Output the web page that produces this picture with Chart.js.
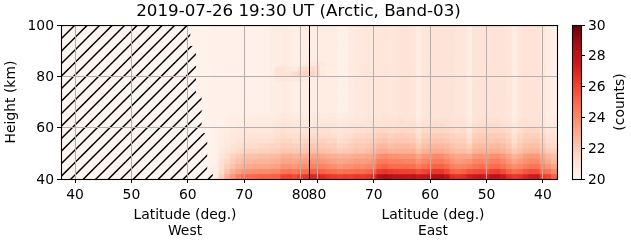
<!DOCTYPE html>
<html>
<head>
<meta charset="utf-8">
<title>Band-03 counts</title>
<script src="https://cdn.jsdelivr.net/npm/chart.js@4"></script>
<style>
  html, body { margin: 0; padding: 0; background: #fff; }
  canvas { position: absolute; top: 0; }
  #heatChart { left: 0; }
  #barChart { left: 560px; }
</style>
</head>
<body>
<canvas id="heatChart" width="631" height="243"></canvas>
<canvas id="barChart" width="71" height="243"></canvas>
<script>
const titleText = '2019-07-26 19:30 UT (Arctic, Band-03)';

// x runs west 37.5..81.5 then folds over the pole, east lat = 163 - x
const columns = [38,39,40,41,42,43,44,45,46,47,48,49,50,51,52,53,54,55,56,57,58,59,60,61,62,63,64,65,66,67,68,69,70,71,72,73,74,75,76,77,78,79,80,81,82,83,84,85,86,87,88,89,90,91,92,93,94,95,96,97,98,99,100,101,102,103,104,105,106,107,108,109,110,111,112,113,114,115,116,117,118,119,120,121,122,123,124,125];
const firstDataColumn = 61;
const heights = [40,42,44,46,48,50,52,54,56,58,60,62,64,66,68,70,72,74,76,78,80,82,84,86,88,90,92,94,96,98];
const poleLine = 81.59;
const xTickValues = [40,50,60,70,80,83,93,103,113,123];
const xTickLabels = ['40','50','60','70','80','80','70','60','50','40'];
const sideCentres = [59.5,103.5];
const sideLabels = [['Latitude (deg.)','West'],['Latitude (deg.)','East']];
const yTicks = [40,60,80,100];
const barTicks = [20,22,24,26,28,30];

// counts per height row, columns 61..125, null = no data (hatched)
const row40 = [null,null,null,null,20.5,21.8,22.8,23.6,24.3,24.8,25.0,25.1,25.2,25.2,25.3,25.3,26.0,26.1,25.8,26.2,26.5,27.0,27.0,26.8,26.5,26.3,26.1,26.3,26.2,26.5,26.3,26.5,26.8,28.2,28.5,28.2,28.0,27.9,27.8,27.9,27.5,27.7,28.0,28.4,28.4,27.8,26.8,26.6,26.8,27.3,27.5,27.6,27.3,27.9,28.1,27.5,26.8,26.4,26.6,27.0,27.4,27.5,26.3,26.0,25.3];
const row42 = [null,null,null,20.2,20.4,21.4,22.2,22.8,23.3,23.7,23.8,23.9,24.0,24.0,24.1,24.1,24.7,24.7,24.5,24.8,25.0,25.4,25.4,25.2,25.0,24.9,24.7,24.8,24.8,25.0,24.9,25.1,25.3,26.3,26.5,26.3,26.2,26.1,26.1,26.1,25.7,26.0,26.2,26.5,26.5,26.0,25.3,25.1,25.3,25.6,25.8,25.9,25.7,26.1,26.3,25.8,25.3,24.9,25.1,25.5,25.8,25.8,24.9,24.6,24.0];
const row44 = [null,null,null,20.2,20.4,21.2,21.8,22.2,22.6,22.9,23.0,23.1,23.1,23.1,23.2,23.3,23.7,23.7,23.5,23.8,23.9,24.3,24.3,24.2,24.0,23.9,23.6,23.8,23.8,24.0,23.9,24.1,24.2,25.0,25.2,25.0,24.9,24.9,24.9,24.8,24.4,24.8,25.0,25.2,25.2,24.9,24.3,24.1,24.2,24.4,24.7,24.8,24.6,24.9,25.0,24.7,24.2,23.9,24.1,24.4,24.6,24.7,24.0,23.6,23.2];
const row46 = [null,null,null,20.2,20.3,21.0,21.5,21.9,22.2,22.5,22.6,22.7,22.7,22.7,22.8,22.9,23.2,23.2,23.1,23.2,23.4,23.7,23.7,23.6,23.4,23.3,23.1,23.2,23.3,23.5,23.4,23.5,23.7,24.4,24.5,24.3,24.3,24.3,24.2,24.2,23.7,24.1,24.3,24.5,24.5,24.2,23.7,23.5,23.6,23.7,24.1,24.2,24.0,24.3,24.4,24.1,23.6,23.2,23.5,23.8,24.0,24.1,23.4,23.0,22.6];
const row48 = [null,null,null,20.2,20.3,20.9,21.3,21.7,22.0,22.2,22.3,22.3,22.4,22.4,22.5,22.5,22.9,22.9,22.7,22.8,23.0,23.2,23.2,23.1,23.0,22.9,22.7,22.8,22.9,23.0,23.0,23.1,23.2,23.8,24.0,23.8,23.8,23.7,23.7,23.7,23.2,23.6,23.8,24.0,24.0,23.7,23.3,23.1,23.2,23.1,23.6,23.7,23.5,23.8,23.9,23.6,23.2,22.7,23.0,23.4,23.6,23.6,23.0,22.6,22.3];
const row50 = [null,null,null,20.2,20.3,20.7,21.0,21.2,21.4,21.6,21.7,21.7,21.7,21.7,21.8,21.9,22.1,22.1,22.0,22.1,22.2,22.4,22.4,22.3,22.2,22.1,21.9,22.0,22.1,22.3,22.2,22.4,22.5,22.9,23.0,22.8,22.8,22.8,22.8,22.8,22.3,22.7,22.9,23.0,23.0,22.8,22.5,22.4,22.4,22.2,22.7,22.8,22.7,22.9,22.9,22.7,22.4,22.0,22.3,22.6,22.7,22.7,22.3,21.9,21.7];
const row52 = [null,null,null,20.2,20.3,20.6,20.8,21.0,21.2,21.4,21.4,21.4,21.5,21.5,21.6,21.6,21.9,21.8,21.7,21.8,21.9,22.1,22.1,22.0,21.9,21.9,21.6,21.7,21.9,22.0,22.0,22.1,22.2,22.5,22.6,22.4,22.5,22.5,22.5,22.4,21.9,22.3,22.5,22.6,22.6,22.5,22.2,22.1,22.1,21.8,22.4,22.5,22.4,22.5,22.6,22.4,22.1,21.6,22.0,22.3,22.4,22.4,22.0,21.6,21.4];
const row54 = [null,null,null,20.2,20.3,20.5,20.7,20.8,21.0,21.1,21.2,21.2,21.2,21.2,21.3,21.4,21.6,21.6,21.4,21.5,21.6,21.7,21.7,21.7,21.6,21.6,21.3,21.4,21.6,21.7,21.7,21.8,21.9,22.1,22.2,22.0,22.1,22.1,22.1,22.0,21.5,22.0,22.1,22.2,22.2,22.1,21.9,21.8,21.8,21.4,22.0,22.1,22.1,22.1,22.2,22.1,21.8,21.3,21.7,22.0,22.0,22.1,21.7,21.3,21.2];
const row56 = [null,null,null,20.2,20.3,20.4,20.6,20.7,20.8,20.9,21.0,21.0,21.0,21.0,21.1,21.2,21.4,21.3,21.2,21.3,21.3,21.5,21.5,21.4,21.4,21.3,21.1,21.2,21.3,21.5,21.5,21.6,21.6,21.8,21.9,21.7,21.8,21.9,21.8,21.8,21.2,21.7,21.8,21.9,21.9,21.8,21.7,21.6,21.6,21.1,21.8,21.9,21.9,21.9,21.9,21.8,21.6,21.1,21.5,21.8,21.8,21.8,21.5,21.1,21.0];
const row58 = [null,null,20.2,20.2,20.3,20.4,20.5,20.6,20.7,20.8,20.8,20.8,20.8,20.8,20.9,21.0,21.2,21.1,21.0,21.0,21.1,21.2,21.2,21.2,21.2,21.1,20.9,21.0,21.1,21.2,21.2,21.3,21.4,21.5,21.5,21.4,21.5,21.5,21.5,21.5,21.0,21.4,21.5,21.6,21.6,21.5,21.4,21.3,21.4,20.9,21.5,21.6,21.6,21.6,21.6,21.5,21.4,20.9,21.3,21.5,21.5,21.5,21.3,20.9,20.8];
const row60 = [null,null,20.2,20.2,20.3,20.3,20.4,20.5,20.6,20.6,20.7,20.7,20.7,20.7,20.8,20.9,21.0,21.0,20.8,20.8,20.9,21.0,21.0,21.0,21.0,21.0,20.7,20.8,21.0,21.0,21.1,21.1,21.2,21.2,21.3,21.2,21.3,21.3,21.3,21.3,20.8,21.2,21.3,21.4,21.4,21.3,21.2,21.2,21.2,20.7,21.3,21.4,21.4,21.4,21.4,21.3,21.2,20.8,21.2,21.3,21.3,21.3,21.1,20.8,20.7];
const row62 = [null,null,20.2,20.2,20.3,20.3,20.4,20.4,20.5,20.5,20.5,20.5,20.6,20.6,20.6,20.7,20.9,20.8,20.7,20.7,20.7,20.8,20.8,20.8,20.8,20.8,20.6,20.7,20.8,20.9,20.9,21.0,21.0,21.1,21.1,21.0,21.1,21.2,21.1,21.1,20.6,21.0,21.1,21.2,21.2,21.2,21.1,21.0,21.0,20.6,21.1,21.2,21.2,21.2,21.2,21.1,21.0,20.6,21.0,21.2,21.1,21.1,21.0,20.6,20.5];
const row64 = [null,null,20.2,20.2,20.3,20.3,20.3,20.4,20.4,20.4,20.4,20.4,20.5,20.5,20.5,20.6,20.8,20.7,20.6,20.6,20.6,20.7,20.7,20.7,20.7,20.7,20.5,20.6,20.7,20.8,20.8,20.9,20.9,20.9,21.0,20.9,20.9,21.0,21.0,21.0,20.5,20.9,21.0,21.0,21.0,21.0,21.0,20.9,20.9,20.5,21.0,21.1,21.1,21.0,21.0,21.0,20.9,20.5,20.9,21.0,21.0,21.0,20.9,20.5,20.4];
const lowerMid = [null,null,20.2,20.2,20.3,20.3,20.3,20.3,20.3,20.3,20.3,20.3,20.3,20.3,20.4,20.5,20.6,20.5,20.4,20.4,20.4,20.5,20.5,20.5,20.5,20.5,20.3,20.3,20.6,20.7,20.8,20.9,20.9,20.9,20.9,20.8,20.9,21.0,21.0,20.9,20.5,20.9,21.0,21.0,21.0,21.0,21.0,20.9,20.9,20.5,21.0,21.1,21.1,21.0,21.0,21.0,20.9,20.5,20.9,21.1,21.0,21.0,20.9,20.5,20.3];
const upperMid = [null,20.2,20.2,20.2,20.3,20.3,20.3,20.3,20.3,20.3,20.3,20.3,20.3,20.3,20.4,20.5,20.6,20.5,20.4,20.4,20.4,20.5,20.5,20.5,20.5,20.5,20.3,20.3,20.6,20.7,20.8,20.9,20.9,20.9,20.9,20.8,20.9,21.0,21.0,20.9,20.5,20.9,21.0,21.0,21.0,21.0,21.0,20.9,20.9,20.5,21.0,21.1,21.1,21.0,21.0,21.0,20.9,20.5,20.9,21.1,21.0,21.0,20.9,20.5,20.3];
const upperTop = [20.2,20.2,20.2,20.2,20.3,20.3,20.3,20.3,20.3,20.3,20.3,20.3,20.3,20.3,20.4,20.5,20.6,20.5,20.4,20.4,20.4,20.5,20.5,20.5,20.5,20.5,20.3,20.3,20.6,20.7,20.8,20.9,20.9,20.9,20.9,20.8,20.9,21.0,21.0,20.9,20.5,20.9,21.0,21.0,21.0,21.0,21.0,20.9,20.9,20.5,21.0,21.1,21.1,21.0,21.0,21.0,20.9,20.5,20.9,21.1,21.0,21.0,20.9,20.5,20.3];
const row78 = [null,20.2,20.2,20.2,20.3,20.3,20.3,20.3,20.3,20.3,20.3,20.3,20.3,20.3,20.4,20.7,20.8,20.7,20.7,20.7,20.6,20.6,20.5,20.5,20.5,20.5,20.3,20.3,20.6,20.7,20.8,20.9,20.9,20.9,20.9,20.8,20.9,21.0,21.0,20.9,20.5,20.9,21.0,21.0,21.0,21.0,21.0,20.9,20.9,20.5,21.0,21.1,21.1,21.0,21.0,21.0,20.9,20.5,20.9,21.1,21.0,21.0,20.9,20.5,20.3];
const row80 = [null,20.2,20.2,20.2,20.3,20.3,20.3,20.3,20.3,20.3,20.3,20.3,20.3,20.3,20.5,21.1,21.1,21.1,21.4,21.6,21.7,21.7,21.4,20.7,20.5,20.5,20.3,20.3,20.6,20.7,20.8,20.9,20.9,20.9,20.9,20.8,20.9,21.0,21.0,20.9,20.5,20.9,21.0,21.0,21.0,21.0,21.0,20.9,20.9,20.5,21.0,21.1,21.1,21.0,21.0,21.0,20.9,20.5,20.9,21.1,21.0,21.0,20.9,20.5,20.3];
const row82 = [null,20.2,20.2,20.2,20.3,20.3,20.3,20.3,20.3,20.3,20.3,20.3,20.3,20.3,20.4,21.0,21.0,20.7,20.6,21.3,21.5,21.5,21.3,20.6,20.5,20.5,20.3,20.3,20.6,20.7,20.8,20.9,20.9,20.9,20.9,20.8,20.9,21.0,21.0,20.9,20.5,20.9,21.0,21.0,21.0,21.0,21.0,20.9,20.9,20.5,21.0,21.1,21.1,21.0,21.0,21.0,20.9,20.5,20.9,21.1,21.0,21.0,20.9,20.5,20.3];
const row84 = [null,20.2,20.2,20.2,20.3,20.3,20.3,20.3,20.3,20.3,20.3,20.3,20.3,20.3,20.4,20.5,20.6,20.5,20.4,20.4,20.7,20.9,21.0,20.7,20.5,20.5,20.3,20.3,20.6,20.7,20.8,20.9,20.9,20.9,20.9,20.8,20.9,21.0,21.0,20.9,20.5,20.9,21.0,21.0,21.0,21.0,21.0,20.9,20.9,20.5,21.0,21.1,21.1,21.0,21.0,21.0,20.9,20.5,20.9,21.1,21.0,21.0,20.9,20.5,20.3];

const countRows = [row40,row42,row44,row46,row48,row50,row52,row54,row56,row58,row60,row62,row64,lowerMid,lowerMid,lowerMid,
  upperMid,upperMid,upperMid,row78,row80,row82,row84,upperMid,upperMid,upperMid,upperTop,upperTop,upperTop,upperTop];

// matplotlib Reds
const reds = ['#fff5f0','#fee0d2','#fcbba1','#fc9272','#fb6a4a','#ef3b2c','#cb181d','#a50f15','#67000d'];
const redsRgb = reds.map(h => [1, 3, 5].map(i => parseInt(h.slice(i, i + 2), 16)));
const vMin = 20, vMax = 30;

function colorFor(v) {
  const t = Math.min(Math.max((v - vMin) / (vMax - vMin), 0), 1) * (reds.length - 1);
  const i = Math.min(Math.floor(t), reds.length - 2);
  const f = t - i;
  const c = redsRgb[i].map((a, k) => Math.round(a + (redsRgb[i + 1][k] - a) * f));
  return `rgb(${c[0]},${c[1]},${c[2]})`;
}

function makeHatch() {
  const size = 25;
  const tile = document.createElement('canvas');
  tile.width = tile.height = size;
  const g = tile.getContext('2d');
  g.fillStyle = reds[0];
  g.fillRect(0, 0, size, size);
  g.strokeStyle = '#000';
  g.lineWidth = 1.5;
  for (let s = 0; s <= size * 2; s += size / 2) {
    g.beginPath();
    g.moveTo(s + 2, -2);
    g.lineTo(s - size - 2, size + 2);
    g.stroke();
  }
  return g.createPattern(tile, 'repeat');
}
const hatch = makeHatch();

const cells = [];
heights.forEach((h, i) => {
  columns.forEach(c => {
    const v = c < firstDataColumn ? null : countRows[i][c - firstDataColumn];
    cells.push({ x: c, y: [h, h + 2], v });
  });
});

const tickFont = { family: 'DejaVu Sans', size: 13.9 };

const framePlugin = {
  id: 'frame',
  afterDraw(chart) {
    const a = chart.chartArea, ctx = chart.ctx;
    ctx.save();
    ctx.strokeStyle = '#000';
    ctx.lineWidth = 1.1;
    ctx.strokeRect(a.left + 0.5, a.top + 0.5, a.right - a.left, a.bottom - a.top);
    ctx.restore();
  }
};

new Chart(document.getElementById('heatChart'), {
  data: {
    datasets: [
      {
        type: 'line',
        data: [{ x: poleLine, y: 40 }, { x: poleLine, y: 100 }],
        borderColor: '#000',
        borderWidth: 1,
        pointRadius: 0,
        order: 1
      },
      {
        type: 'bar',
        data: cells,
        backgroundColor: ctx => (ctx.raw && ctx.raw.v != null) ? colorFor(ctx.raw.v) : hatch,
        borderWidth: 0,
        barPercentage: 1,
        categoryPercentage: 1,
        grouped: false,
        order: 2
      }
    ]
  },
  options: {
    responsive: false,
    animation: false,
    events: [],
    layout: { padding: { left: 0, right: 74, top: 0, bottom: 0 } },
    plugins: {
      legend: { display: false },
      tooltip: { enabled: false },
      title: {
        display: true,
        text: titleText,
        color: '#000',
        font: { family: 'DejaVu Sans', size: 16.7, weight: 'normal', lineHeight: 1.2 },
        padding: { top: 2, bottom: 3 }
      }
    },
    scales: {
      x: {
        type: 'linear',
        position: 'bottom',
        weight: 0,
        offset: false,
        min: 37.5,
        max: 125.5,
        afterBuildTicks: s => { s.ticks = xTickValues.map(value => ({ value })); },
        afterFit: s => { s.height = 22; },
        ticks: {
          color: '#000',
          font: tickFont,
          autoSkip: false,
          maxRotation: 0,
          padding: 4,
          callback: v => xTickLabels[xTickValues.indexOf(v)]
        },
        border: { display: false },
        grid: { offset: false, color: '#b0b0b0', lineWidth: 1, z: 1, tickColor: '#000', tickLength: 4 }
      },
      sides: {
        type: 'linear',
        axis: 'x',
        position: 'bottom',
        weight: 1,
        offset: false,
        min: 37.5,
        max: 125.5,
        afterBuildTicks: s => { s.ticks = sideCentres.map(value => ({ value })); },
        afterFit: s => { s.height = 42; },
        ticks: {
          color: '#000',
          font: { family: 'DejaVu Sans', size: 13.9, lineHeight: 1.15 },
          autoSkip: false,
          maxRotation: 0,
          padding: 6,
          callback: v => sideLabels[sideCentres.indexOf(v)]
        },
        border: { display: false },
        grid: { display: false, drawTicks: false }
      },
      y: {
        type: 'linear',
        min: 40,
        max: 100,
        afterBuildTicks: s => { s.ticks = yTicks.map(value => ({ value })); },
        afterFit: s => { s.width = 61; },
        title: {
          display: true,
          text: 'Height (km)',
          color: '#000',
          font: tickFont,
          padding: { top: 3, bottom: 0 }
        },
        ticks: { color: '#000', font: tickFont, padding: 3, labelOffset: 1 },
        border: { display: false },
        grid: { color: '#b0b0b0', lineWidth: 1, z: 1, tickColor: '#000', tickLength: 4 }
      }
    }
  },
  plugins: [framePlugin, {
    id: 'titleOffset',
    afterLayout(chart) { chart.titleBlock.right = 597; }
  }]
});

new Chart(document.getElementById('barChart'), {
  type: 'bar',
  data: {
    labels: ['counts'],
    datasets: [{
      data: [[vMin, vMax]],
      barPercentage: 1,
      categoryPercentage: 1,
      borderWidth: 0,
      backgroundColor: ctx => {
        const a = ctx.chart.chartArea;
        if (!a) return reds[0];
        const g = ctx.chart.ctx.createLinearGradient(0, a.bottom, 0, a.top);
        reds.forEach((c, i) => g.addColorStop(i / (reds.length - 1), c));
        return g;
      }
    }]
  },
  options: {
    responsive: false,
    animation: false,
    events: [],
    layout: { padding: { left: 12, right: 0, top: 25, bottom: 64 } },
    plugins: { legend: { display: false }, tooltip: { enabled: false } },
    scales: {
      x: { display: false },
      y: {
        position: 'right',
        min: vMin,
        max: vMax,
        afterBuildTicks: s => { s.ticks = barTicks.map(value => ({ value })); },
        afterFit: s => { s.width = 50; },
        ticks: { color: '#000', font: tickFont, padding: 3, labelOffset: 1 },
        border: { display: false },
        grid: { drawOnChartArea: false, color: '#000', tickColor: '#000', tickLength: 4 }
      }
    }
  },
  plugins: [framePlugin, {
    id: 'barLabel',
    afterDraw(chart) {
      const ctx = chart.ctx, a = chart.chartArea;
      ctx.save();
      ctx.translate(60, (a.top + a.bottom) / 2);
      ctx.rotate(-Math.PI / 2);
      ctx.font = '13.9px "DejaVu Sans"';
      ctx.fillStyle = '#000';
      ctx.textAlign = 'center';
      ctx.textBaseline = 'middle';
      ctx.fillText('(counts)', 0, 0);
      ctx.restore();
    }
  }]
});
</script>
</body>
</html>
